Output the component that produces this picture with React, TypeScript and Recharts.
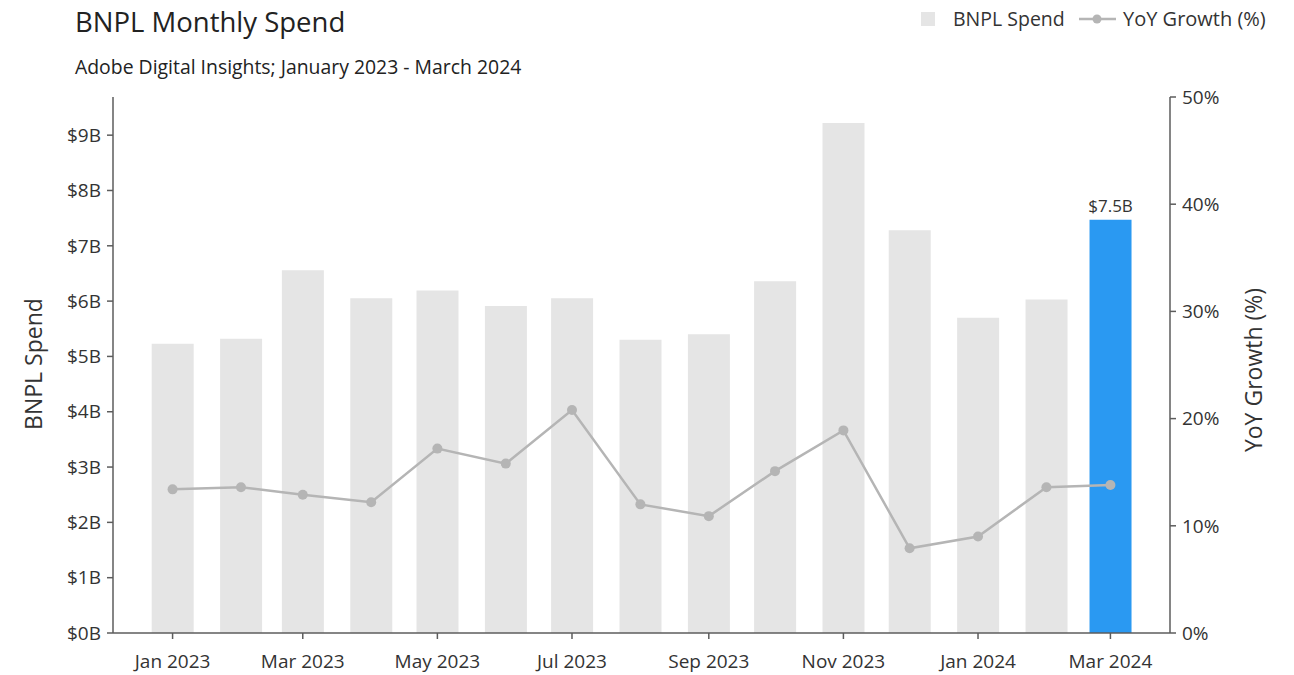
import React from 'react';
import { ComposedChart, Bar, Line, XAxis, YAxis, Cell, LabelList } from 'recharts';

// ---- Data ----
const months = [
  '2023-01-01', '2023-02-01', '2023-03-01', '2023-04-01', '2023-05-01',
  '2023-06-01', '2023-07-01', '2023-08-01', '2023-09-01', '2023-10-01',
  '2023-11-01', '2023-12-01', '2024-01-01', '2024-02-01', '2024-03-01',
];
// BNPL spend, $ billions
const spend = [5.23, 5.32, 6.56, 6.05, 6.19, 5.91, 6.05, 5.3, 5.4, 6.36, 9.22, 7.28, 5.7, 6.03, 7.47];
// YoY growth, %
const yoyGrowth = [13.4, 13.6, 12.9, 12.2, 17.2, 15.8, 20.8, 12.0, 10.9, 15.1, 18.9, 7.9, 9.0, 13.6, 13.8];
const highlightMonth = '2024-03-01';
const xTickMonths = ['2023-01-01', '2023-03-01', '2023-05-01', '2023-07-01', '2023-09-01', '2023-11-01', '2024-01-01', '2024-03-01'];
const leftTicks = [0, 1, 2, 3, 4, 5, 6, 7, 8, 9];
const rightTicks = [0, 10, 20, 30, 40, 50];
const monthNames = ['Jan', 'Feb', 'Mar', 'Apr', 'May', 'Jun', 'Jul', 'Aug', 'Sep', 'Oct', 'Nov', 'Dec'];

const titleText = 'BNPL Monthly Spend';
const subtitleText = 'Adobe Digital Insights; January 2023 - March 2024';
const spendName = 'BNPL Spend';
const growthName = 'YoY Growth (%)';

// ---- Helpers ----
const DAY = 86400000;
const toTime = (s: string) => Date.parse(s + 'T00:00:00Z');
const data = months.map((m, i) => ({
  t: toTime(m),
  spend: spend[i],
  yoy: yoyGrowth[i],
  highlight: m === highlightMonth,
}));
const xTicks = xTickMonths.map(toTime);
const xMin = toTime(months[0]) - 27 * DAY;
const xMax = toTime(months[months.length - 1]) + 27 * DAY;

const FONT = '"Open Sans", "Noto Sans", sans-serif';
const TEXT = '#333333';
const AXIS = '#5c5c5c';
const BAR = '#e5e5e5';
const BLUE = '#2a99f2';
const LINE = '#b5b5b5';

const fmtMonth = (v: number) => {
  const d = new Date(v);
  return `${monthNames[d.getUTCMonth()]} ${d.getUTCFullYear()}`;
};

const renderBarLabel = (props: any) => {
  const { x, y, width, index, value } = props;
  if (!data[index] || !data[index].highlight) return null;
  return (
    <text x={Number(x) + Number(width) / 2} y={Number(y) - 8} textAnchor="middle" fill={TEXT} fontSize={17} fontFamily={FONT}>
      {`$${Number(value).toFixed(1)}B`}
    </text>
  );
};

export default function App() {
  return (
    <div style={{ position: 'absolute', left: 0, top: 0, width: 1294, height: 675, background: '#fff' }}>
      <ComposedChart
        width={1294}
        height={675}
        data={data}
        margin={{ top: 97, right: 64, bottom: 12, left: 53 }}
      >
        <XAxis
          dataKey="t"
          type="number"
          domain={[xMin, xMax]}
          allowDataOverflow
          ticks={xTicks}
          tickFormatter={fmtMonth}
          height={30}
          axisLine={{ stroke: AXIS, strokeWidth: 1.5 }}
          tickLine={{ stroke: AXIS, strokeWidth: 1.5 }}
          tickSize={6}
          tickMargin={16}
          tick={{ fill: TEXT, fontSize: 19, fontFamily: FONT }}
        />
        <YAxis
          yAxisId="left"
          width={60}
          domain={[0, 9.69]}
          allowDataOverflow
          ticks={leftTicks}
          tickFormatter={(v: number) => `$${v}B`}
          axisLine={{ stroke: AXIS, strokeWidth: 1.5 }}
          tickLine={{ stroke: AXIS, strokeWidth: 1.5 }}
          tickSize={6}
          tickMargin={6}
          tick={{ fill: TEXT, fontSize: 19, fontFamily: FONT }}
        />
        <YAxis
          yAxisId="right"
          orientation="right"
          width={60}
          domain={[0, 50]}
          ticks={rightTicks}
          tickFormatter={(v: number) => `${v}%`}
          axisLine={{ stroke: AXIS, strokeWidth: 1.5 }}
          tickLine={{ stroke: AXIS, strokeWidth: 1.5 }}
          tickSize={6}
          tickMargin={6}
          tick={{ fill: TEXT, fontSize: 19, fontFamily: FONT }}
        />
        <Bar yAxisId="left" dataKey="spend" name={spendName} barSize={42} isAnimationActive={false}>
          {data.map((d, i) => (
            <Cell key={i} fill={d.highlight ? BLUE : BAR} />
          ))}
          <LabelList dataKey="spend" content={renderBarLabel} />
        </Bar>
        <Line
          yAxisId="right"
          dataKey="yoy"
          name={growthName}
          type="linear"
          stroke={LINE}
          strokeWidth={2.5}
          dot={{ r: 5, fill: LINE, stroke: 'none' }}
          activeDot={false}
          isAnimationActive={false}
        />
      </ComposedChart>
      <svg
        width={1294}
        height={675}
        style={{ position: 'absolute', left: 0, top: 0, pointerEvents: 'none' }}
        fontFamily={FONT}
      >
        <text x={75} y={32} fontSize={27.5} fill="#222">{titleText}</text>
        <text x={75} y={74} fontSize={19.4} fill="#222">{subtitleText}</text>
        {/* legend */}
        <rect x={921} y={12} width={14} height={14} fill={BAR} />
        <text x={953} y={26} fontSize={19.5} fill={TEXT}>{spendName}</text>
        <line x1={1079} y1={19} x2={1116} y2={19} stroke={LINE} strokeWidth={2.5} />
        <circle cx={1097} cy={19} r={4.5} fill={LINE} />
        <text x={1123} y={26} fontSize={20} fill={TEXT}>{growthName}</text>
        {/* axis titles */}
        <text x={33} y={364} fontSize={23} fill={TEXT} textAnchor="middle" dominantBaseline="central" transform="rotate(-90 33 364)">{spendName}</text>
        <text x={1253} y={370} fontSize={23} fill={TEXT} textAnchor="middle" dominantBaseline="central" transform="rotate(-90 1253 370)">{growthName}</text>
      </svg>
    </div>
  );
}
